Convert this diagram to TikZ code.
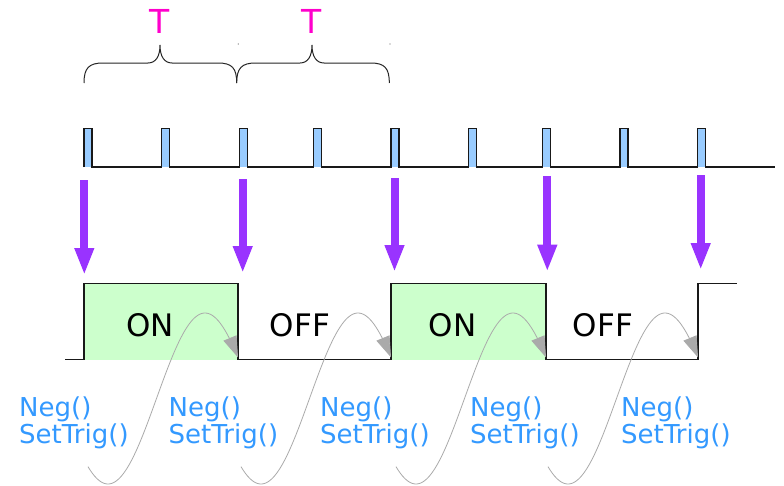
\documentclass[tikz,border=0pt]{standalone}
\usepackage{fontspec}
\setmainfont{DejaVu Sans}
\usetikzlibrary{arrows.meta}
\definecolor{pulseblue}{HTML}{99CCFF}
\definecolor{ongreen}{HTML}{CCFFCC}
\definecolor{trigpurple}{HTML}{9933FF}
\definecolor{magentaT}{HTML}{FF00CC}
\definecolor{callblue}{HTML}{3399FF}
\definecolor{curvegray}{HTML}{AAAAAA}
\tikzset{
  wave/.style={draw=black!90, line width=1.3pt, line join=miter},
  pulsefill/.style={fill=pulseblue, draw=none},
  greenfill/.style={fill=ongreen, draw=none},
  trigarrow/.style={draw=trigpurple, line width=8pt, -{Triangle[length=27pt,width=18pt]}, trigpurple},
  bracepath/.style={draw=black!85, line width=1pt},
  tlabel/.style={text=magentaT, font=\fontsize{33}{36}\selectfont, inner sep=0pt, anchor=base},
  statelabel/.style={text=black, font=\fontsize{31}{34}\selectfont, inner sep=0pt, anchor=base},
  calllabel/.style={text=callblue, font=\fontsize{26}{28}\selectfont, inner sep=0pt, anchor=base west},
  callcurve/.style={draw=curvegray, line width=0.8pt},
  callhead/.style={draw=curvegray, line width=0.8pt, -{Triangle[length=21pt,width=14pt]}, curvegray},
}
\begin{document}
\begin{tikzpicture}[x=1pt,y=-1pt]
\useasboundingbox (0,0) rectangle (784,485);
\fill[white] (0,0) rectangle (784,485);

% T labels and braces
\node[tlabel] (t1) at (160,33) {T};
\node[tlabel] (t2) at (312,33) {T};
\draw[bracepath] (84,83) .. controls (84,68) and (89,63) .. (103,63) -- (148,63)
  .. controls (156,63) and (160,56) .. (160,45)
  .. controls (160,56) and (164,63) .. (172,63) -- (218,63)
  .. controls (232,63) and (236.7,68) .. (236.7,83);
\draw[bracepath] (236.7,83) .. controls (236.7,68) and (241.7,63) .. (255.7,63) -- (300,63)
  .. controls (308,63) and (312,56) .. (312,45)
  .. controls (312,56) and (316,63) .. (324,63) -- (370.6,63)
  .. controls (384.6,63) and (389.3,68) .. (389.3,83);
\fill[black!60] (238.3,44) circle[radius=0.6pt];
\fill[black!60] (390,44) circle[radius=0.6pt];

% clock pulses
\foreach \p in {84,161.7,239.3,313.3,391,468.3,542.7,620,697.7}{
  \fill[pulsefill] (\p,128.3) rectangle ({\p+8},167);
}
\draw[wave] (84,167) -- (84,128.3) -- (92,128.3) -- (92,167)
  -- (161.7,167) -- (161.7,128.3) -- (169.7,128.3) -- (169.7,167)
  -- (239.3,167) -- (239.3,128.3) -- (247.3,128.3) -- (247.3,167)
  -- (313.3,167) -- (313.3,128.3) -- (321.3,128.3) -- (321.3,167)
  -- (391,167) -- (391,128.3) -- (399,128.3) -- (399,167)
  -- (468.3,167) -- (468.3,128.3) -- (476.3,128.3) -- (476.3,167)
  -- (542.7,167) -- (542.7,128.3) -- (550.7,128.3) -- (550.7,167)
  -- (620,167) -- (620,128.3) -- (628,128.3) -- (628,167)
  -- (697.7,167) -- (697.7,128.3) -- (705.7,128.3) -- (705.7,167)
  -- (775,167);

% trigger arrows
\coordinate (a1s) at (84.3,180);   \coordinate (a1e) at (84.3,275);
\coordinate (a2s) at (242.7,179);  \coordinate (a2e) at (242.7,273);
\coordinate (a3s) at (394.5,178);  \coordinate (a3e) at (394.5,272);
\coordinate (a4s) at (547.3,176);  \coordinate (a4e) at (547.3,271.7);
\coordinate (a5s) at (700.7,175);  \coordinate (a5e) at (700.7,270);
\draw[trigarrow] (a1s) -- (a1e);
\draw[trigarrow] (a2s) -- (a2e);
\draw[trigarrow] (a3s) -- (a3e);
\draw[trigarrow] (a4s) -- (a4e);
\draw[trigarrow] (a5s) -- (a5e);

% output signal
\fill[greenfill] (84,283.5) rectangle (238,359.5);
\fill[greenfill] (391,283.5) rectangle (546,359.5);
\draw[wave] (65,359.5) -- (84,359.5) -- (84,283.5) -- (238,283.5) -- (238,359.5)
  -- (391,359.5) -- (391,283.5) -- (546,283.5) -- (546,359.5)
  -- (698,359.5) -- (698,283.5) -- (737,283.5);

\node[statelabel] (on1) at (150,336.7) {ON};
\node[statelabel] (off1) at (300,336.7) {OFF};
\node[statelabel] (on2) at (452.7,336.7) {ON};
\node[statelabel] (off2) at (603,336.7) {OFF};

% call labels
\node[calllabel] (neg1) at (19,416.5) {Neg()};
\node[calllabel] (set1) at (19,443.5) {SetTrig()};
\node[calllabel] (neg2) at (168.5,416.5) {Neg()};
\node[calllabel] (set2) at (168.5,443.5) {SetTrig()};
\node[calllabel] (neg3) at (320,416.5) {Neg()};
\node[calllabel] (set3) at (320,443.5) {SetTrig()};
\node[calllabel] (neg4) at (470,416.5) {Neg()};
\node[calllabel] (set4) at (470,443.5) {SetTrig()};
\node[calllabel] (neg5) at (621,416.5) {Neg()};
\node[calllabel] (set5) at (621,443.5) {SetTrig()};

% sine-shaped call curves
\foreach \e in {238,391,546,698}{
  \pgfmathsetmacro\s{\e-150}
  \pgfmathsetmacro\m{\e-7}
  \pgfmathsetmacro\tr{\e-130}
  \pgfmathsetmacro\b{\e-8}
  \draw[callcurve] plot[domain=\s:\m, samples=90] (\x,{398.5+85.5*cos((\x-\tr)*1.8557)});
  \draw[callhead] (\b,338) -- (\e,357.4);
}
\end{tikzpicture}
\end{document}
